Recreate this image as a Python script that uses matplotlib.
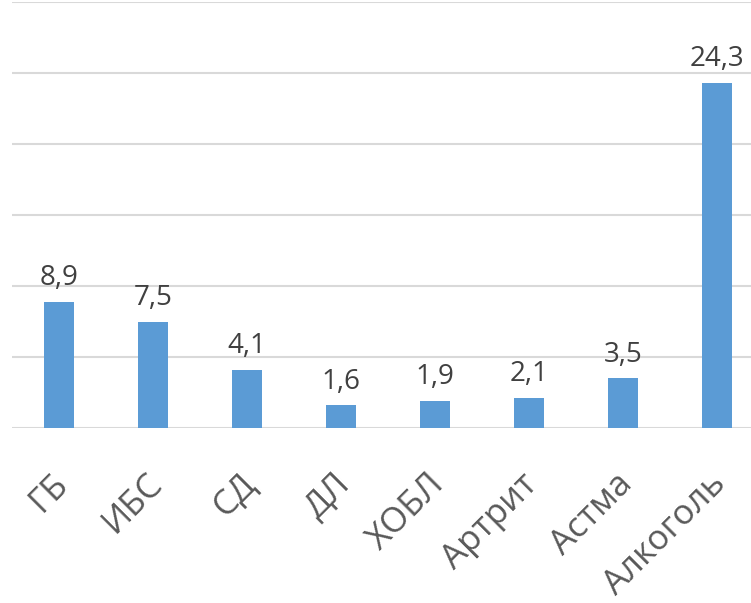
import numpy as np
import matplotlib
matplotlib.use("Agg")
import matplotlib.pyplot as plt
import matplotlib.transforms as mtransforms

categories = ["ГБ", "ИБС", "СД", "ДЛ", "ХОБЛ", "Артрит", "Астма", "Алкоголь"]
values = [8.9, 7.5, 4.1, 1.6, 1.9, 2.1, 3.5, 24.3]
value_labels = ["8,9", "7,5", "4,1", "1,6", "1,9", "2,1", "3,5", "24,3"]

plt.rcParams["font.family"] = ["Open Sans", "DejaVu Sans"]

fig = plt.figure(figsize=(7.51, 6.03), dpi=100)
ax = fig.add_axes([12 / 751, 175 / 603, 752 / 751, 426 / 603])

x = np.arange(len(categories))
bars = ax.bar(x, values, width=0.32, color="#5B9BD5", zorder=3)

for b, lab in zip(bars, value_labels):
    ax.annotate(lab, (b.get_x() + b.get_width() / 2, b.get_height()),
                xytext=(0, 7), textcoords="offset points",
                ha="center", va="bottom", fontsize=20, color="#404040")

ax.set_xlim(-0.5, len(categories) - 0.5)
ax.set_ylim(0, 30)
ax.set_yticks(np.arange(0, 31, 5))
ax.yaxis.grid(True, color="#D9D9D9", linewidth=1.5, zorder=0)
ax.tick_params(axis="y", left=False, labelleft=False)
ax.tick_params(axis="x", length=0, pad=28)
ax.set_xticks(x)
ax.set_xticklabels(categories, rotation=45, ha="right", rotation_mode="anchor",
                   fontsize=25, color="#595959")

# slide the rotated labels a bit left so their ends sit near the ticks
shift = mtransforms.ScaledTranslation(-8 / 100, 0, fig.dpi_scale_trans)
for t in ax.get_xticklabels():
    t.set_transform(t.get_transform() + shift)

for s in ax.spines.values():
    s.set_visible(False)

fig.savefig("out.png", dpi=100)
